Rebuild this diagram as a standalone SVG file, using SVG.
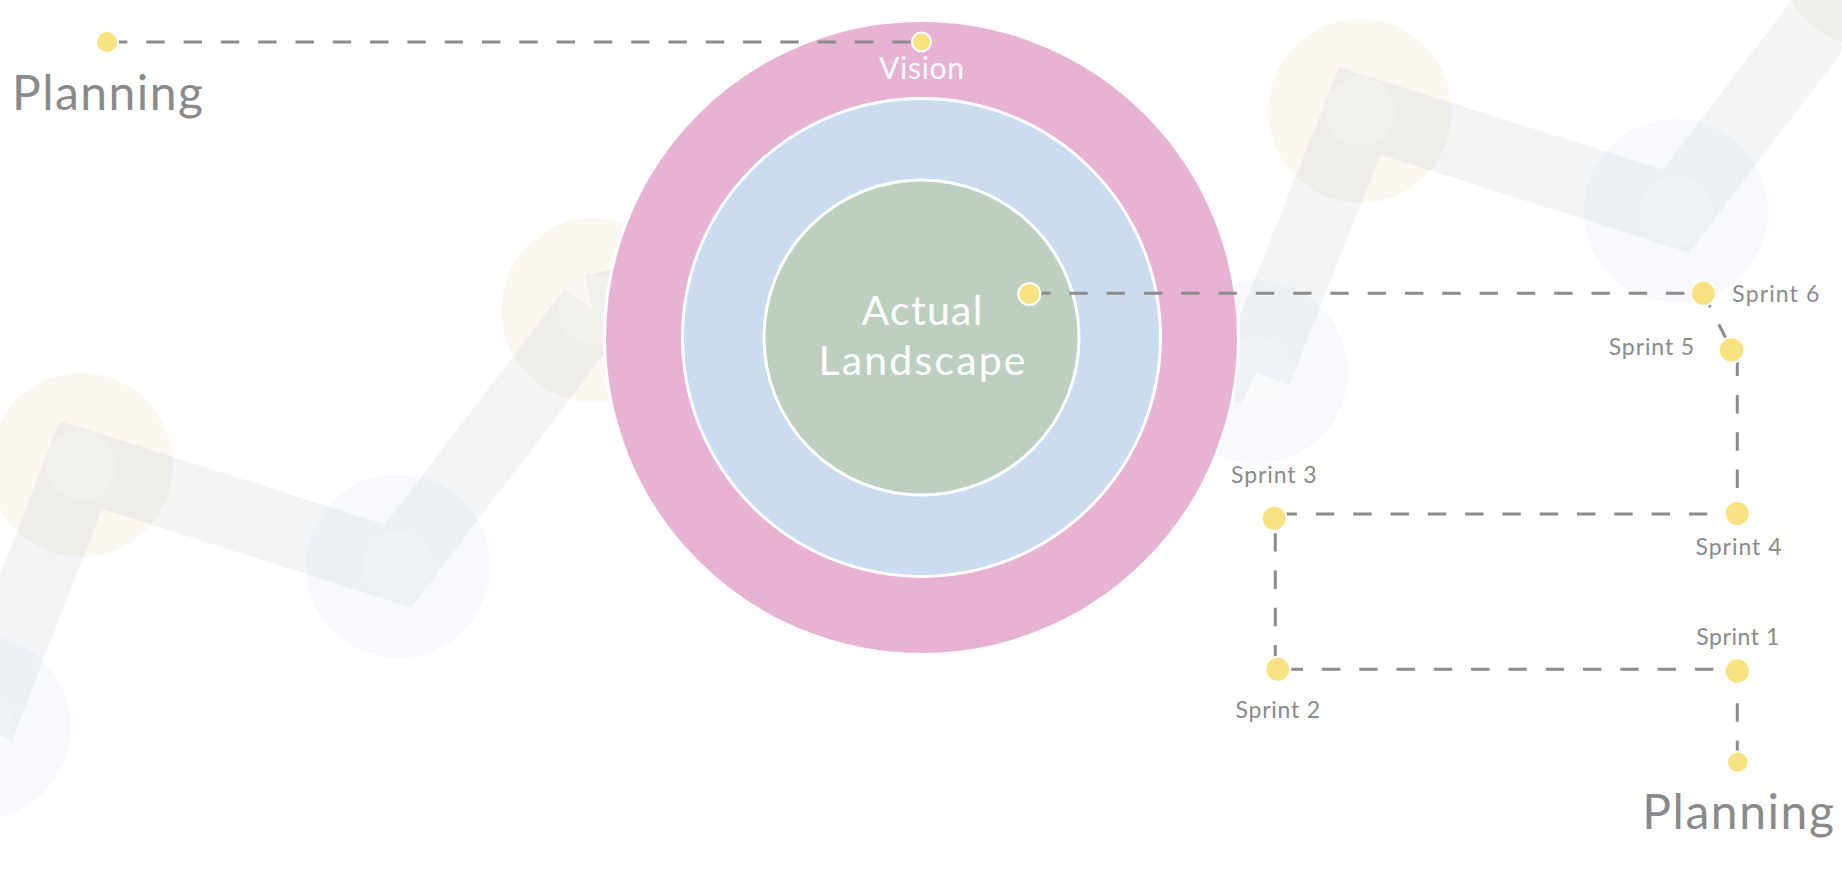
<svg xmlns="http://www.w3.org/2000/svg" width="1842" height="872" viewBox="0 0 1842 872">
<defs>
<style>
.bg-b{fill:#f7f9fc}
.bg-o{fill:#fbf7f1}
.inner{fill:#ffffff;fill-opacity:0.18}
.band{fill:none;stroke:#a4acbc;stroke-width:71;stroke-linejoin:miter;stroke-miterlimit:10;stroke-linecap:butt}
.dash{fill:none;stroke:#8c8c8c;stroke-width:3;stroke-dasharray:18.4 18.9}
.dot{fill:#f8e281;stroke:#ffffff;stroke-width:2}
.lbl{font-family:Lato,"Liberation Sans",sans-serif;fill:#8a8a8a}
.sprint{font-size:23px}
.big{font-size:48px}
.white{font-family:Lato,"Liberation Sans",sans-serif;fill:#ffffff;text-anchor:middle}
</style>
</defs>
<rect width="1842" height="872" fill="#ffffff"/>

<g id="background">
  <circle class="bg-b" cx="-21" cy="727" r="92"/>
  <circle class="bg-o" cx="81" cy="465" r="92"/>
  <circle class="bg-b" cx="398" cy="566" r="92"/>
  <circle class="bg-o" cx="593" cy="310" r="92"/>
  <circle class="bg-b" cx="1256" cy="372" r="92"/>
  <circle class="bg-o" cx="1360" cy="111" r="92"/>
  <circle class="bg-b" cx="1676" cy="211" r="92"/>
  <circle class="bg-o" cx="1871" cy="-45" r="92"/>
  <g opacity="0.125">
    <polyline class="band" points="-21,727 81,465 398,566 593,310"/>
    <polyline class="band" points="593,310 950,229 1256,372"/>
    <polyline class="band" points="1256,372 1360,111 1676,211 1871,-45"/>
  </g>
  <circle class="inner" cx="-21" cy="727" r="35"/>
  <circle class="inner" cx="81" cy="465" r="35"/>
  <circle class="inner" cx="398" cy="566" r="35"/>
  <circle class="inner" cx="593" cy="310" r="35"/>
  <circle class="inner" cx="1256" cy="372" r="35"/>
  <circle class="inner" cx="1360" cy="111" r="35"/>
  <circle class="inner" cx="1676" cy="211" r="35"/>
  <circle class="inner" cx="1871" cy="-45" r="35"/>
</g>

<g id="vision-ring">
  <circle cx="921.5" cy="337.5" r="317" fill="#e7b2d3" stroke="#ffffff" stroke-width="3"/>
  <text class="white" x="921.5" y="79" font-size="30" textLength="85">Vision</text>
</g>
<g id="middle-ring">
  <circle cx="921.5" cy="337.5" r="239" fill="#cbdcf0" stroke="#ffffff" stroke-width="3"/>
</g>
<g id="actual-landscape">
  <circle cx="921.5" cy="337.5" r="157.5" fill="#bdcfc0" stroke="#ffffff" stroke-width="3"/>
  <text class="white" x="922" y="325" font-size="41" textLength="121">Actual</text>
  <text class="white" x="922" y="375" font-size="41" textLength="207">Landscape</text>
</g>

<g id="connectors">
  <path class="dash" d="M109 42 H921"/>
  <path class="dash" d="M1032 293.3 H1703"/>
  <path class="dash" d="M1702.1 290.9 L1731.7 350"/>
  <path class="dash" d="M1737.3 357.7 V513"/>
  <path class="dash" d="M1278.6 514 H1737"/>
  <path class="dash" d="M1275.3 533.2 V669"/>
  <path class="dash" d="M1284.6 669.3 H1737"/>
  <path class="dash" d="M1737.3 703.3 V762"/>
</g>

<g id="planning-top">
  <circle class="dot" cx="107" cy="42" r="11" stroke-width="1.5"/>
  <text class="lbl big" x="12" y="110" textLength="191">Planning</text>
</g>
<g id="vision-point">
  <circle class="dot" cx="921.5" cy="42" r="9.5"/>
</g>
<g id="actual-point">
  <circle class="dot" cx="1029.3" cy="294" r="11"/>
</g>
<g id="sprint-6">
  <circle class="dot" cx="1703.3" cy="293.3" r="12.5"/>
  <text class="lbl sprint" x="1732.3" y="301.7" textLength="87">Sprint 6</text>
</g>
<g id="sprint-5">
  <circle class="dot" cx="1731.6" cy="350" r="12.7"/>
  <text class="lbl sprint" x="1608.7" y="355" textLength="85.5">Sprint 5</text>
</g>
<g id="sprint-4">
  <circle class="dot" cx="1737.3" cy="513.5" r="12.5"/>
  <text class="lbl sprint" x="1695.5" y="555" textLength="86">Sprint 4</text>
</g>
<g id="sprint-3">
  <circle class="dot" cx="1274.1" cy="518.3" r="12.5"/>
  <text class="lbl sprint" x="1231" y="483.3" textLength="85.7">Sprint 3</text>
</g>
<g id="sprint-2">
  <circle class="dot" cx="1277.8" cy="669.3" r="12.5"/>
  <text class="lbl sprint" x="1235.6" y="718.3" textLength="84.4">Sprint 2</text>
</g>
<g id="sprint-1">
  <circle class="dot" cx="1737.3" cy="671" r="12.7"/>
  <text class="lbl sprint" x="1696.3" y="645" textLength="83">Sprint 1</text>
</g>
<g id="planning-bottom">
  <circle class="dot" cx="1737.7" cy="762.3" r="10.7"/>
  <text class="lbl big" x="1642.3" y="829.3" textLength="191.6">Planning</text>
</g>
</svg>
